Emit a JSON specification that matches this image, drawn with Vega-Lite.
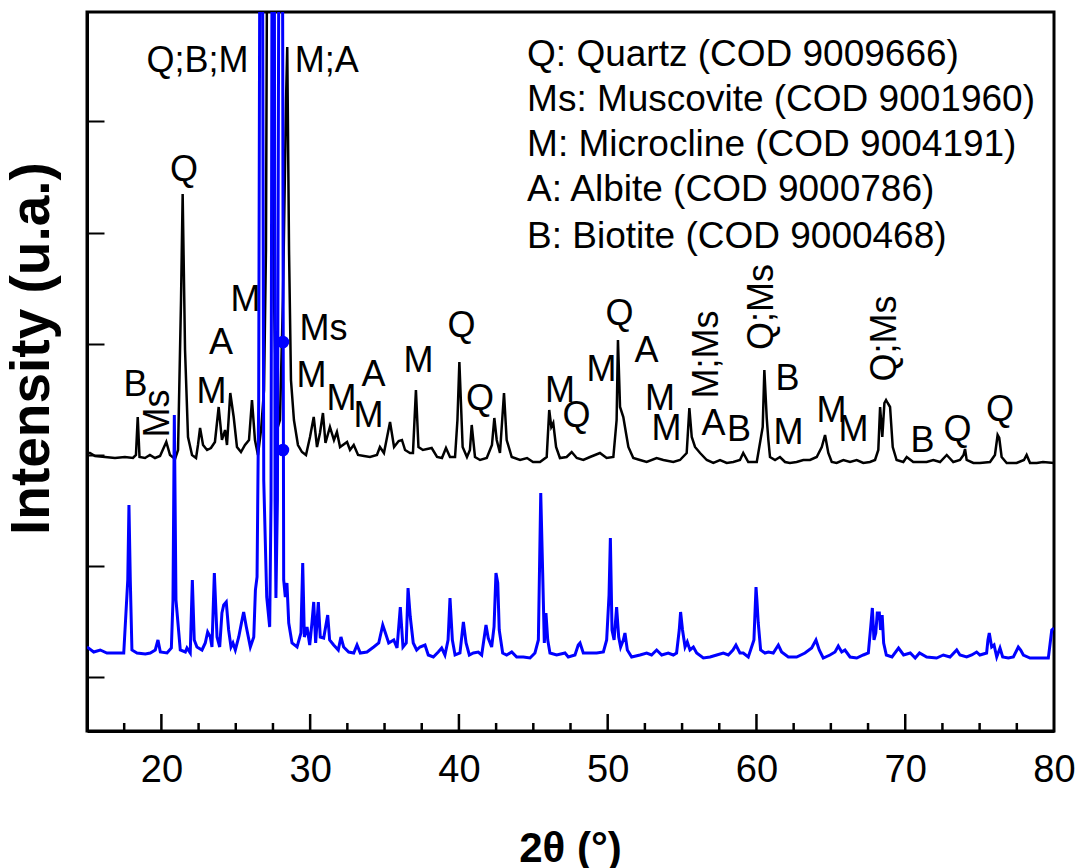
{
  "$schema": "https://vega.github.io/schema/vega-lite/v6.json",
  "width": 967,
  "height": 719,
  "autosize": {"type": "none"},
  "padding": {"left": 87, "top": 12, "right": 24, "bottom": 137},
  "background": "white",
  "config": {
    "view": {"stroke": "black", "strokeWidth": 3},
    "font": "Liberation Sans",
    "axis": {"grid": false}
  },
  "datasets": {
    "upper": [
      {"theta":15.00,"intensity":2016},{"theta":15.20,"intensity":2016},{"theta":15.54,"intensity":1989},{"theta":16.21,"intensity":1980},{"theta":16.88,"intensity":1971},{"theta":17.55,"intensity":1980},{"theta":18.09,"intensity":1971},{"theta":18.29,"intensity":1998},{"theta":18.41,"intensity":2340},{"theta":18.53,"intensity":1980},{"theta":18.90,"intensity":1971},{"theta":19.23,"intensity":1998},{"theta":19.57,"intensity":1971},{"theta":19.91,"intensity":1989},{"theta":20.33,"intensity":2115},{"theta":20.58,"intensity":1998},{"theta":20.92,"intensity":1962},{"theta":21.12,"intensity":2043},{"theta":21.32,"intensity":3393},{"theta":21.43,"intensity":4347},{"theta":21.59,"intensity":2943},{"theta":21.79,"intensity":2160},{"theta":22.06,"intensity":1998},{"theta":22.33,"intensity":1971},{"theta":22.46,"intensity":2088},{"theta":22.60,"intensity":2241},{"theta":22.80,"intensity":2088},{"theta":23.07,"intensity":2043},{"theta":23.33,"intensity":2061},{"theta":23.60,"intensity":2115},{"theta":23.85,"intensity":2430},{"theta":24.07,"intensity":2133},{"theta":24.28,"intensity":2223},{"theta":24.41,"intensity":2088},{"theta":24.63,"intensity":2556},{"theta":24.86,"intensity":2340},{"theta":25.08,"intensity":2070},{"theta":25.35,"intensity":2025},{"theta":25.62,"intensity":2088},{"theta":25.89,"intensity":2133},{"theta":26.09,"intensity":2493},{"theta":26.29,"intensity":2133},{"theta":26.49,"intensity":1998},{"theta":26.70,"intensity":2223},{"theta":26.90,"intensity":2583},{"theta":27.03,"intensity":3843},{"theta":27.17,"intensity":9000},{"theta":27.40,"intensity":9000},{"theta":27.57,"intensity":3393},{"theta":27.77,"intensity":2223},{"theta":27.97,"intensity":2313},{"theta":28.17,"intensity":3393},{"theta":28.38,"intensity":5193},{"theta":28.46,"intensity":5670},{"theta":28.58,"intensity":3843},{"theta":28.71,"intensity":2673},{"theta":28.91,"intensity":2313},{"theta":29.18,"intensity":2088},{"theta":29.45,"intensity":2025},{"theta":29.72,"intensity":1998},{"theta":29.99,"intensity":2160},{"theta":30.24,"intensity":2340},{"theta":30.46,"intensity":2070},{"theta":30.66,"intensity":2196},{"theta":30.86,"intensity":2376},{"theta":31.03,"intensity":2106},{"theta":31.33,"intensity":2250},{"theta":31.60,"intensity":2133},{"theta":31.80,"intensity":2205},{"theta":32.01,"intensity":2070},{"theta":32.48,"intensity":2115},{"theta":32.68,"intensity":2043},{"theta":32.93,"intensity":2088},{"theta":33.22,"intensity":1998},{"theta":33.62,"intensity":1989},{"theta":34.02,"intensity":1980},{"theta":34.49,"intensity":1998},{"theta":34.69,"intensity":2070},{"theta":34.96,"intensity":2016},{"theta":35.37,"intensity":2295},{"theta":35.64,"intensity":2070},{"theta":35.95,"intensity":2124},{"theta":36.17,"intensity":2133},{"theta":36.38,"intensity":2043},{"theta":36.71,"intensity":2016},{"theta":36.91,"intensity":2016},{"theta":37.11,"intensity":2583},{"theta":37.28,"intensity":2070},{"theta":37.58,"intensity":2043},{"theta":38.17,"intensity":2061},{"theta":38.53,"intensity":1980},{"theta":38.86,"intensity":1971},{"theta":39.13,"intensity":2061},{"theta":39.40,"intensity":1980},{"theta":39.74,"intensity":1980},{"theta":39.90,"intensity":2313},{"theta":40.03,"intensity":2835},{"theta":40.25,"intensity":2070},{"theta":40.54,"intensity":1980},{"theta":40.74,"intensity":2043},{"theta":40.86,"intensity":2268},{"theta":41.08,"intensity":1980},{"theta":41.42,"intensity":1953},{"theta":41.87,"intensity":1971},{"theta":42.22,"intensity":2088},{"theta":42.38,"intensity":2331},{"theta":42.54,"intensity":2133},{"theta":42.76,"intensity":2016},{"theta":43.03,"intensity":2556},{"theta":43.21,"intensity":2133},{"theta":43.55,"intensity":1980},{"theta":44.11,"intensity":1953},{"theta":44.58,"intensity":1971},{"theta":44.98,"intensity":1935},{"theta":45.45,"intensity":1935},{"theta":45.90,"intensity":1980},{"theta":46.07,"intensity":2403},{"theta":46.21,"intensity":2250},{"theta":46.34,"intensity":2286},{"theta":46.53,"intensity":2070},{"theta":46.79,"intensity":1971},{"theta":47.24,"intensity":1980},{"theta":47.58,"intensity":2025},{"theta":47.92,"intensity":1971},{"theta":48.36,"intensity":1953},{"theta":48.81,"intensity":1980},{"theta":49.48,"intensity":2016},{"theta":49.93,"intensity":1971},{"theta":50.38,"intensity":1980},{"theta":50.60,"intensity":2313},{"theta":50.69,"intensity":3033},{"theta":50.83,"intensity":2430},{"theta":51.05,"intensity":2340},{"theta":51.23,"intensity":2196},{"theta":51.39,"intensity":2070},{"theta":51.72,"intensity":1971},{"theta":52.17,"intensity":1953},{"theta":52.62,"intensity":1935},{"theta":53.29,"intensity":1971},{"theta":53.74,"intensity":1953},{"theta":54.41,"intensity":1935},{"theta":54.86,"intensity":1953},{"theta":55.31,"intensity":2016},{"theta":55.49,"intensity":2421},{"theta":55.65,"intensity":2160},{"theta":55.87,"intensity":2070},{"theta":56.21,"intensity":2016},{"theta":56.66,"intensity":1953},{"theta":57.10,"intensity":1926},{"theta":57.55,"intensity":1953},{"theta":58.00,"intensity":1926},{"theta":58.44,"intensity":1935},{"theta":58.89,"intensity":1953},{"theta":59.11,"intensity":2016},{"theta":59.45,"intensity":1935},{"theta":60.02,"intensity":1935},{"theta":60.42,"intensity":2250},{"theta":60.53,"intensity":2763},{"theta":60.69,"intensity":2331},{"theta":60.80,"intensity":2133},{"theta":60.91,"intensity":1980},{"theta":61.25,"intensity":1953},{"theta":61.58,"intensity":1980},{"theta":61.92,"intensity":1935},{"theta":62.25,"intensity":1926},{"theta":62.70,"intensity":1935},{"theta":63.15,"intensity":1953},{"theta":63.60,"intensity":1953},{"theta":64.05,"intensity":1980},{"theta":64.39,"intensity":2070},{"theta":64.61,"intensity":2178},{"theta":64.83,"intensity":2016},{"theta":65.06,"intensity":1935},{"theta":65.39,"intensity":1926},{"theta":65.84,"intensity":1953},{"theta":66.29,"intensity":1935},{"theta":66.74,"intensity":1953},{"theta":67.18,"intensity":1926},{"theta":67.63,"intensity":1935},{"theta":67.97,"intensity":1953},{"theta":68.19,"intensity":2043},{"theta":68.31,"intensity":2430},{"theta":68.46,"intensity":2160},{"theta":68.60,"intensity":2466},{"theta":68.71,"intensity":2493},{"theta":68.82,"intensity":2466},{"theta":68.98,"intensity":2430},{"theta":69.16,"intensity":2070},{"theta":69.42,"intensity":1953},{"theta":69.87,"intensity":1935},{"theta":70.10,"intensity":1980},{"theta":70.54,"intensity":1935},{"theta":70.99,"intensity":1935},{"theta":71.44,"intensity":1935},{"theta":71.89,"intensity":1953},{"theta":72.34,"intensity":1935},{"theta":72.79,"intensity":1998},{"theta":73.23,"intensity":1935},{"theta":73.68,"intensity":1953},{"theta":73.92,"intensity":1998},{"theta":74.02,"intensity":2052},{"theta":74.13,"intensity":1953},{"theta":74.58,"intensity":1926},{"theta":75.02,"intensity":1926},{"theta":75.70,"intensity":1935},{"theta":76.03,"intensity":1998},{"theta":76.21,"intensity":2178},{"theta":76.32,"intensity":2151},{"theta":76.48,"intensity":1980},{"theta":76.82,"intensity":1926},{"theta":77.49,"intensity":1926},{"theta":77.98,"intensity":1953},{"theta":78.16,"intensity":1998},{"theta":78.39,"intensity":1926},{"theta":78.84,"intensity":1926},{"theta":79.26,"intensity":1935},{"theta":80.00,"intensity":1926}
    ],
    "lower": [
      {"theta":15.00,"intensity":270},{"theta":15.45,"intensity":225},{"theta":15.89,"intensity":243},{"theta":16.34,"intensity":216},{"theta":16.79,"intensity":216},{"theta":17.47,"intensity":216},{"theta":17.74,"intensity":873},{"theta":17.82,"intensity":1548},{"theta":17.91,"intensity":873},{"theta":18.02,"intensity":243},{"theta":18.36,"intensity":216},{"theta":18.92,"intensity":207},{"theta":19.25,"intensity":216},{"theta":19.59,"intensity":243},{"theta":19.77,"intensity":333},{"theta":19.93,"intensity":225},{"theta":20.38,"intensity":216},{"theta":20.67,"intensity":261},{"theta":20.78,"intensity":693},{"theta":20.87,"intensity":2358},{"theta":20.98,"intensity":693},{"theta":21.27,"intensity":243},{"theta":21.61,"intensity":225},{"theta":21.72,"intensity":261},{"theta":21.94,"intensity":216},{"theta":22.08,"intensity":873},{"theta":22.21,"intensity":333},{"theta":22.39,"intensity":270},{"theta":22.73,"intensity":243},{"theta":22.95,"intensity":306},{"theta":23.11,"intensity":405},{"theta":23.29,"intensity":360},{"theta":23.40,"intensity":270},{"theta":23.56,"intensity":936},{"theta":23.74,"intensity":360},{"theta":23.92,"intensity":270},{"theta":24.07,"intensity":576},{"theta":24.19,"intensity":648},{"theta":24.36,"intensity":675},{"theta":24.52,"intensity":423},{"theta":24.68,"intensity":270},{"theta":24.81,"intensity":306},{"theta":24.97,"intensity":243},{"theta":25.20,"intensity":360},{"theta":25.42,"intensity":513},{"theta":25.53,"intensity":585},{"theta":25.71,"intensity":450},{"theta":25.98,"intensity":270},{"theta":26.21,"intensity":360},{"theta":26.32,"intensity":783},{"theta":26.43,"intensity":900},{"theta":26.54,"intensity":2493},{"theta":26.66,"intensity":9000},{"theta":26.76,"intensity":9000},{"theta":26.88,"intensity":1773},{"theta":27.08,"intensity":720},{"theta":27.28,"intensity":450},{"theta":27.37,"intensity":1593},{"theta":27.47,"intensity":9000},{"theta":27.57,"intensity":9000},{"theta":27.64,"intensity":1593},{"theta":27.70,"intensity":711},{"theta":27.80,"intensity":1593},{"theta":27.94,"intensity":9000},{"theta":28.11,"intensity":9000},{"theta":28.22,"intensity":873},{"theta":28.33,"intensity":720},{"theta":28.44,"intensity":846},{"theta":28.56,"intensity":486},{"theta":28.78,"intensity":306},{"theta":29.12,"intensity":270},{"theta":29.38,"intensity":396},{"theta":29.50,"intensity":1026},{"theta":29.61,"intensity":360},{"theta":29.79,"intensity":450},{"theta":29.97,"intensity":288},{"theta":30.12,"intensity":486},{"theta":30.24,"intensity":675},{"theta":30.37,"intensity":306},{"theta":30.55,"intensity":675},{"theta":30.68,"intensity":360},{"theta":30.91,"intensity":351},{"theta":31.18,"intensity":558},{"theta":31.31,"intensity":333},{"theta":31.58,"intensity":288},{"theta":31.89,"intensity":243},{"theta":32.07,"intensity":360},{"theta":32.25,"intensity":270},{"theta":32.59,"intensity":225},{"theta":32.93,"intensity":216},{"theta":33.15,"intensity":288},{"theta":33.37,"intensity":216},{"theta":33.82,"intensity":225},{"theta":34.27,"intensity":270},{"theta":34.61,"intensity":306},{"theta":34.88,"intensity":468},{"theta":35.06,"intensity":396},{"theta":35.28,"intensity":306},{"theta":35.62,"intensity":333},{"theta":35.84,"intensity":261},{"theta":36.06,"intensity":630},{"theta":36.24,"intensity":270},{"theta":36.46,"intensity":306},{"theta":36.58,"intensity":801},{"theta":36.73,"intensity":540},{"theta":36.93,"intensity":306},{"theta":37.16,"intensity":243},{"theta":37.38,"intensity":270},{"theta":37.72,"intensity":288},{"theta":37.94,"intensity":198},{"theta":38.28,"intensity":180},{"theta":38.61,"intensity":225},{"theta":38.84,"intensity":261},{"theta":39.06,"intensity":198},{"theta":39.27,"intensity":333},{"theta":39.40,"intensity":711},{"theta":39.56,"intensity":333},{"theta":39.74,"intensity":198},{"theta":40.07,"intensity":216},{"theta":40.30,"intensity":495},{"theta":40.48,"intensity":306},{"theta":40.70,"intensity":198},{"theta":40.97,"intensity":216},{"theta":41.30,"intensity":225},{"theta":41.53,"intensity":198},{"theta":41.82,"intensity":468},{"theta":41.97,"intensity":351},{"theta":42.20,"intensity":270},{"theta":42.36,"intensity":450},{"theta":42.49,"intensity":936},{"theta":42.61,"intensity":846},{"theta":42.71,"intensity":423},{"theta":42.94,"intensity":216},{"theta":43.21,"intensity":198},{"theta":43.55,"intensity":225},{"theta":43.88,"intensity":180},{"theta":44.33,"intensity":180},{"theta":44.78,"intensity":171},{"theta":45.11,"intensity":216},{"theta":45.34,"intensity":333},{"theta":45.50,"intensity":1656},{"theta":45.63,"intensity":936},{"theta":45.74,"intensity":306},{"theta":45.85,"intensity":576},{"theta":45.97,"intensity":333},{"theta":46.12,"intensity":216},{"theta":46.57,"intensity":198},{"theta":47.13,"intensity":216},{"theta":47.35,"intensity":180},{"theta":47.80,"intensity":198},{"theta":48.02,"intensity":288},{"theta":48.14,"intensity":306},{"theta":48.36,"intensity":216},{"theta":48.81,"intensity":216},{"theta":49.26,"intensity":216},{"theta":49.71,"intensity":225},{"theta":49.93,"intensity":333},{"theta":50.09,"intensity":738},{"theta":50.18,"intensity":1251},{"theta":50.29,"intensity":423},{"theta":50.43,"intensity":333},{"theta":50.60,"intensity":630},{"theta":50.74,"intensity":360},{"theta":50.87,"intensity":270},{"theta":51.05,"intensity":333},{"theta":51.16,"intensity":396},{"theta":51.32,"intensity":243},{"theta":51.61,"intensity":180},{"theta":52.17,"intensity":198},{"theta":52.62,"intensity":216},{"theta":52.95,"intensity":198},{"theta":53.29,"intensity":243},{"theta":53.63,"intensity":198},{"theta":54.07,"intensity":216},{"theta":54.41,"intensity":198},{"theta":54.63,"intensity":216},{"theta":54.81,"intensity":423},{"theta":54.90,"intensity":585},{"theta":55.03,"intensity":423},{"theta":55.20,"intensity":270},{"theta":55.35,"intensity":315},{"theta":55.53,"intensity":243},{"theta":55.76,"intensity":270},{"theta":55.98,"intensity":216},{"theta":56.43,"intensity":171},{"theta":56.88,"intensity":180},{"theta":57.33,"intensity":198},{"theta":57.77,"intensity":216},{"theta":58.11,"intensity":198},{"theta":58.42,"intensity":243},{"theta":58.62,"intensity":288},{"theta":58.89,"intensity":216},{"theta":59.11,"intensity":216},{"theta":59.45,"intensity":180},{"theta":59.83,"intensity":333},{"theta":59.97,"intensity":810},{"theta":60.03,"intensity":693},{"theta":60.12,"intensity":486},{"theta":60.28,"intensity":243},{"theta":60.57,"intensity":216},{"theta":60.80,"intensity":225},{"theta":61.13,"intensity":216},{"theta":61.47,"intensity":288},{"theta":61.69,"intensity":225},{"theta":62.14,"intensity":180},{"theta":62.70,"intensity":180},{"theta":63.26,"intensity":216},{"theta":63.71,"intensity":261},{"theta":64.00,"intensity":333},{"theta":64.22,"intensity":243},{"theta":64.49,"intensity":171},{"theta":64.94,"intensity":198},{"theta":65.28,"intensity":225},{"theta":65.50,"intensity":279},{"theta":65.73,"intensity":225},{"theta":65.95,"intensity":243},{"theta":66.29,"intensity":180},{"theta":66.74,"intensity":171},{"theta":67.18,"intensity":198},{"theta":67.52,"intensity":216},{"theta":67.68,"intensity":450},{"theta":67.79,"intensity":621},{"theta":67.90,"intensity":333},{"theta":68.02,"intensity":396},{"theta":68.12,"intensity":576},{"theta":68.26,"intensity":576},{"theta":68.34,"intensity":423},{"theta":68.45,"intensity":558},{"theta":68.55,"intensity":306},{"theta":68.73,"intensity":198},{"theta":69.11,"intensity":180},{"theta":69.55,"intensity":261},{"theta":69.89,"intensity":198},{"theta":70.34,"intensity":216},{"theta":70.67,"intensity":171},{"theta":70.96,"intensity":216},{"theta":71.44,"intensity":180},{"theta":72.11,"intensity":171},{"theta":72.56,"intensity":198},{"theta":73.01,"intensity":180},{"theta":73.46,"intensity":243},{"theta":73.68,"intensity":198},{"theta":74.13,"intensity":180},{"theta":74.47,"intensity":198},{"theta":74.80,"intensity":225},{"theta":75.02,"intensity":198},{"theta":75.47,"intensity":216},{"theta":75.56,"intensity":333},{"theta":75.65,"intensity":396},{"theta":75.81,"intensity":270},{"theta":75.97,"intensity":288},{"theta":76.15,"intensity":180},{"theta":76.37,"intensity":261},{"theta":76.55,"intensity":180},{"theta":76.93,"intensity":171},{"theta":77.27,"intensity":180},{"theta":77.60,"intensity":270},{"theta":77.76,"intensity":243},{"theta":77.94,"intensity":198},{"theta":78.39,"intensity":171},{"theta":79.06,"intensity":171},{"theta":79.62,"intensity":171},{"theta":79.85,"intensity":423},{"theta":80.00,"intensity":441}
    ],
    "markers": [
      {"theta":28.17,"intensity":3015},{"theta":28.17,"intensity":2043}
    ],
    "majorTicks": [
      {"theta":20},{"theta":30},{"theta":40},{"theta":50},{"theta":60},{"theta":70}
    ],
    "minorTicks": [
      {"theta":17.5},{"theta":22.5},{"theta":25},{"theta":27.5},{"theta":32.5},{"theta":35},{"theta":37.5},{"theta":42.5},{"theta":45},{"theta":47.5},{"theta":52.5},{"theta":55},{"theta":57.5},{"theta":62.5},{"theta":65},{"theta":67.5},{"theta":72.5},{"theta":75},{"theta":77.5}
    ],
    "labels": [
      {"theta":22.43,"intensity":5544,"label":"Q;B;M"},
      {"theta":31.11,"intensity":5544,"label":"M;A"},
      {"theta":21.52,"intensity":4563,"label":"Q"},
      {"theta":25.65,"intensity":3393,"label":"M"},
      {"theta":24.01,"intensity":3006,"label":"A"},
      {"theta":30.90,"intensity":3132,"label":"Ms"},
      {"theta":18.26,"intensity":2628,"label":"B"},
      {"theta":23.37,"intensity":2561,"label":"M"},
      {"theta":30.09,"intensity":2705,"label":"M"},
      {"theta":32.11,"intensity":2498,"label":"M"},
      {"theta":34.26,"intensity":2714,"label":"A"},
      {"theta":33.92,"intensity":2345,"label":"M"},
      {"theta":37.28,"intensity":2840,"label":"M"},
      {"theta":40.17,"intensity":3155,"label":"Q"},
      {"theta":41.42,"intensity":2498,"label":"Q"},
      {"theta":46.79,"intensity":2570,"label":"M"},
      {"theta":47.90,"intensity":2345,"label":"Q"},
      {"theta":49.58,"intensity":2763,"label":"M"},
      {"theta":50.79,"intensity":3263,"label":"Q"},
      {"theta":52.61,"intensity":2930,"label":"A"},
      {"theta":53.52,"intensity":2498,"label":"M"},
      {"theta":53.95,"intensity":2228,"label":"M"},
      {"theta":57.11,"intensity":2273,"label":"A"},
      {"theta":58.83,"intensity":2219,"label":"B"},
      {"theta":62.09,"intensity":2678,"label":"B"},
      {"theta":62.15,"intensity":2192,"label":"M"},
      {"theta":65.04,"intensity":2390,"label":"M"},
      {"theta":66.52,"intensity":2223,"label":"M"},
      {"theta":71.16,"intensity":2120,"label":"B"},
      {"theta":73.51,"intensity":2223,"label":"Q"},
      {"theta":76.37,"intensity":2403,"label":"Q"}
    ],
    "labelsRotated": [
      {"theta":19.74,"intensity":2372,"label":"Ms"},
      {"theta":56.67,"intensity":2903,"label":"M;Ms"},
      {"theta":60.37,"intensity":3330,"label":"Q;Ms"},
      {"theta":68.64,"intensity":3047,"label":"Q;Ms"}
    ],
    "phases": [
      {"theta":44.58,"intensity":5598,"label":"Q: Quartz (COD 9009666)"},
      {"theta":44.58,"intensity":5193,"label":"Ms: Muscovite (COD 9001960)"},
      {"theta":44.58,"intensity":4788,"label":"M: Microcline (COD 9004191)"},
      {"theta":44.58,"intensity":4383,"label":"A: Albite (COD 9000786)"},
      {"theta":44.58,"intensity":3960,"label":"B: Biotite (COD 9000468)"}
    ]
  },
  "encoding": {
    "x": {
      "field": "theta",
      "type": "quantitative",
      "scale": {"domain": [15, 80], "nice": false, "zero": false},
      "axis": {
        "orient": "bottom",
        "title": "2θ (°)",
        "values": [20, 30, 40, 50, 60, 70, 80],
        "ticks": false,
        "domainColor": "black",
        "domainWidth": 3,
        "labelFont": "Liberation Sans",
        "labelFontSize": 38,
        "labelColor": "black",
        "labelPadding": 20,
        "labelOverlap": false,
        "labelFlush": false,
        "titleFont": "Liberation Sans",
        "titleFontSize": 42,
        "titleFontWeight": "bold",
        "titleColor": "black",
        "titleX": 483,
        "titleY": 117,
        "titleBaseline": "middle",
        "titleAlign": "center"
      }
    }
  },
  "layer": [
    {
      "data": {"name": "upper"},
      "mark": {"type": "line", "clip": true, "color": "black", "strokeWidth": 2.5},
      "encoding": {
        "y": {
          "field": "intensity",
          "type": "quantitative",
          "title": "Intensity (u.a.)",
          "scale": {"domain": [-486, 5985], "nice": false, "zero": false},
          "axis": {
            "title": "Intensity (u.a.)",
            "values": [0, 1000, 2000, 3000, 4000, 5000],
            "labels": false,
            "tickSize": -17,
            "tickWidth": 2,
            "tickColor": "black",
            "domainColor": "black",
            "domainWidth": 3,
            "titleFont": "Liberation Sans",
            "titleFontSize": 55,
            "titleFontWeight": "bold",
            "titleColor": "black",
            "titleAngle": 270,
            "titleX": -56,
            "titleY": 336,
            "titleBaseline": "middle",
            "titleAlign": "center"
          }
        }
      }
    },
    {
      "data": {"name": "majorTicks"},
      "mark": {"type": "rule", "color": "black", "strokeWidth": 2.5},
      "encoding": {
        "y": {"datum": -486, "type": "quantitative", "title": "Intensity (u.a.)", "scale": {"domain": [-486, 5985], "nice": false, "zero": false}},
        "y2": {"datum": -333}
      }
    },
    {
      "data": {"name": "minorTicks"},
      "mark": {"type": "rule", "color": "black", "strokeWidth": 2.5},
      "encoding": {
        "y": {"datum": -486, "type": "quantitative", "title": "Intensity (u.a.)", "scale": {"domain": [-486, 5985], "nice": false, "zero": false}},
        "y2": {"datum": -414}
      }
    },
    {
      "data": {"name": "lower"},
      "mark": {"type": "line", "clip": true, "color": "#0000ff", "strokeWidth": 3},
      "encoding": {
        "y": {"field": "intensity", "type": "quantitative", "title": "Intensity (u.a.)", "scale": {"domain": [-486, 5985], "nice": false, "zero": false}}
      }
    },
    {
      "data": {"name": "markers"},
      "mark": {"type": "point", "shape": "circle", "filled": true, "color": "#0000ff", "size": 160, "opacity": 1},
      "encoding": {
        "y": {"field": "intensity", "type": "quantitative", "title": "Intensity (u.a.)", "scale": {"domain": [-486, 5985], "nice": false, "zero": false}}
      }
    },
    {
      "data": {"name": "labels"},
      "mark": {"type": "text", "font": "Liberation Sans", "fontSize": 36, "align": "center", "baseline": "middle", "color": "black"},
      "encoding": {
        "y": {"field": "intensity", "type": "quantitative", "title": "Intensity (u.a.)", "scale": {"domain": [-486, 5985], "nice": false, "zero": false}},
        "text": {"field": "label"}
      }
    },
    {
      "data": {"name": "labelsRotated"},
      "mark": {"type": "text", "font": "Liberation Sans", "fontSize": 36, "align": "center", "baseline": "middle", "angle": 270, "color": "black"},
      "encoding": {
        "y": {"field": "intensity", "type": "quantitative", "title": "Intensity (u.a.)", "scale": {"domain": [-486, 5985], "nice": false, "zero": false}},
        "text": {"field": "label"}
      }
    },
    {
      "data": {"name": "phases"},
      "mark": {"type": "text", "font": "Liberation Sans", "fontSize": 37, "align": "left", "baseline": "middle", "color": "black"},
      "encoding": {
        "y": {"field": "intensity", "type": "quantitative", "title": "Intensity (u.a.)", "scale": {"domain": [-486, 5985], "nice": false, "zero": false}},
        "text": {"field": "label"}
      }
    }
  ]
}
